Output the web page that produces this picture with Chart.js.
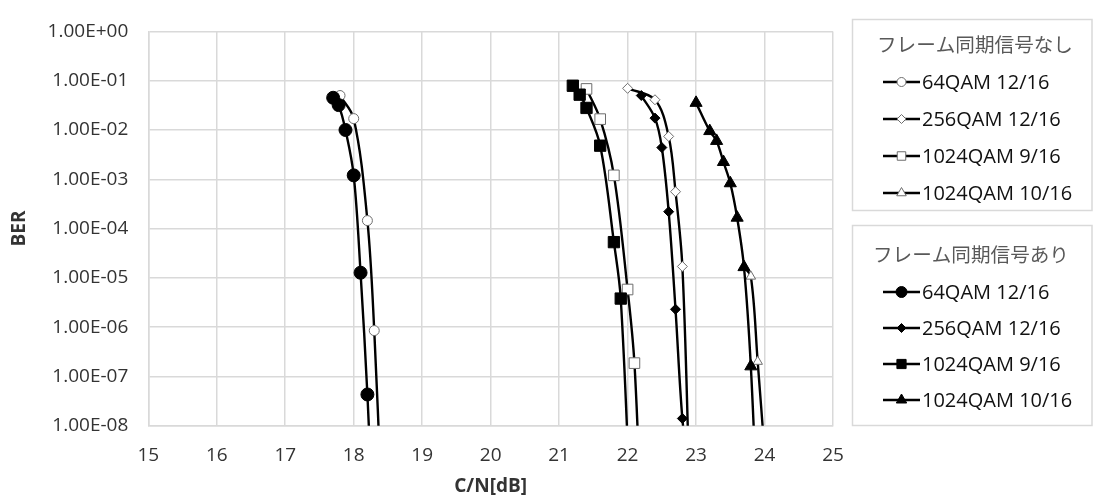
<!DOCTYPE html>
<html>
<head>
<meta charset="utf-8">
<script src="https://cdn.jsdelivr.net/npm/chart.js@4"></script>
<style>
  html, body { margin: 0; padding: 0; background: #fff; }
  #c { display: block; }
</style>
</head>
<body>
<canvas id="c" width="1093" height="497"></canvas>
<script>
// values (C/N in dB, BER)
const cn64Sync   = [17.7, 17.78, 17.88, 18.0, 18.1, 18.2, 18.3];
const ber64Sync  = [4.5e-2, 3.2e-2, 1.0e-2, 1.2e-3, 1.27e-5, 4.3e-8, 3e-11];
const cn256Sync  = [22.2, 22.4, 22.5, 22.6, 22.7, 22.8, 22.9];
const ber256Sync = [5.0e-2, 1.74e-2, 4.4e-3, 2.2e-4, 2.3e-6, 1.4e-8, 1e-9];
const cn1024_9Sync  = [21.2, 21.3, 21.4, 21.6, 21.8, 21.9, 22.05];
const ber1024_9Sync = [7.9e-2, 5.2e-2, 2.8e-2, 4.8e-3, 5.3e-5, 3.8e-6, 1e-10];
const cn1024_10Sync  = [23.0, 23.2, 23.3, 23.4, 23.5, 23.6, 23.7, 23.8, 23.9];
const ber1024_10Sync = [3.55e-2, 9.5e-3, 6.0e-3, 2.24e-3, 8.3e-4, 1.66e-4, 1.65e-5, 1.6e-7, 1e-10];

const cn64NoSync   = [17.8, 18.0, 18.2, 18.3, 18.4];
const ber64NoSync  = [5.0e-2, 1.7e-2, 1.45e-4, 8.5e-7, 5e-10];
const cn256NoSync  = [22.0, 22.4, 22.6, 22.7, 22.8, 22.9];
const ber256NoSync = [7.0e-2, 4.1e-2, 7.4e-3, 5.6e-4, 1.7e-5, 1e-9];
const cn1024_9NoSync  = [21.4, 21.6, 21.8, 22.0, 22.1, 22.2];
const ber1024_9NoSync = [6.8e-2, 1.66e-2, 1.2e-3, 5.8e-6, 1.86e-7, 1e-10];
const cn1024_10NoSync  = [23.7, 23.8, 23.9, 24.0];
const ber1024_10NoSync = [1.65e-5, 1.07e-5, 2.0e-7, 3e-9];

const yTickValues = [1e-8, 1e-7, 1e-6, 1e-5, 1e-4, 1e-3, 1e-2, 1e-1, 1];
const yTickLabels = ["1.00E-08", "1.00E-07", "1.00E-06", "1.00E-05", "1.00E-04",
                     "1.00E-03", "1.00E-02", "1.00E-01", "1.00E+00"];

const legendTitleNoSync = "フレーム同期信号なし";
const legendTitleSync = "フレーム同期信号あり";

function pts(xs, ys) {
  return xs.map((x, i) => ({x: x, y: ys[i]}));
}

const openMark = {backgroundColor: "#fff", pointBorderColor: "#6d6d6d", pointBorderWidth: 1};
const fullMark = {backgroundColor: "#000", pointBorderColor: "#000", pointBorderWidth: 1};

function series(label, group, xs, ys, style, radius, legendRadius, mark) {
  return {
    label: label,
    group: group,
    data: pts(xs, ys),
    borderColor: "#000",
    borderWidth: 2.4,
    pointStyle: style,
    pointRadius: radius,
    legendRadius: legendRadius,
    pointBackgroundColor: mark.backgroundColor,
    pointBorderColor: mark.pointBorderColor,
    pointBorderWidth: mark.pointBorderWidth,
    pointHoverRadius: radius,
    tension: 0.35
  };
}

const datasets = [
  series("64QAM 12/16", 1, cn64Sync, ber64Sync, "circle", 6.5, 5.5, fullMark),
  series("256QAM 12/16", 1, cn256Sync, ber256Sync, "rectRot", 5, 4.5, fullMark),
  series("1024QAM 9/16", 1, cn1024_9Sync, ber1024_9Sync, "rect", 8, 6.5, fullMark),
  series("1024QAM 10/16", 1, cn1024_10Sync, ber1024_10Sync, "triangle", 7, 6, fullMark),
  series("64QAM 12/16", 0, cn64NoSync, ber64NoSync, "circle", 5, 4.5, openMark),
  series("256QAM 12/16", 0, cn256NoSync, ber256NoSync, "rectRot", 5, 4.5, openMark),
  series("1024QAM 9/16", 0, cn1024_9NoSync, ber1024_9NoSync, "rect", 7.5, 6, openMark),
  series("1024QAM 10/16", 0, cn1024_10NoSync, ber1024_10NoSync, "triangle", 5.5, 5.5, openMark)
];

// two boxed legends on the right, drawn on the canvas
const boxLegend = {
  id: "boxLegend",
  afterDraw(chart) {
    const ctx = chart.ctx;
    const boxes = [
      {group: 0, title: legendTitleNoSync, top: 19.5, bottom: 210.5, titleX: 877, titleY: 45, rows: [82, 119, 156, 193]},
      {group: 1, title: legendTitleSync, top: 225.5, bottom: 425.5, titleX: 873, titleY: 255, rows: [292, 328, 364, 400]}
    ];
    ctx.save();
    for (let b of boxes) {
      ctx.strokeStyle = "#d9d9d9";
      ctx.lineWidth = 1.5;
      ctx.strokeRect(852.5, b.top, 239.5, b.bottom - b.top);

      ctx.fillStyle = "#595959";
      ctx.font = '19.6px "Noto Sans CJK JP"';
      ctx.textBaseline = "middle";
      ctx.textAlign = "left";
      ctx.fillText(b.title, b.titleX, b.titleY);

      let items = chart.data.datasets.filter(d => d.group === b.group);
      items.forEach((d, i) => {
        let y = b.rows[i];
        ctx.strokeStyle = "#000";
        ctx.lineWidth = 2.4;
        ctx.beginPath();
        ctx.moveTo(883, y);
        ctx.lineTo(920, y);
        ctx.stroke();

        ctx.fillStyle = d.pointBackgroundColor;
        ctx.strokeStyle = d.pointBorderColor;
        ctx.lineWidth = d.pointBorderWidth;
        Chart.helpers.drawPoint(ctx, {
          pointStyle: d.pointStyle,
          radius: d.legendRadius,
          borderWidth: d.pointBorderWidth,
          rotation: 0
        }, 901.5, y);

        ctx.fillStyle = "#111";
        ctx.font = '20px "Open Sans"';
        ctx.fillText(d.label, 922, y + 1);
      });
    }
    ctx.restore();
  }
};

const gridColor = "#d9d9d9";

new Chart(document.getElementById("c"), {
  type: "line",
  data: {datasets: datasets},
  options: {
    responsive: false,
    animation: false,
    events: [],
    layout: {
      padding: {top: 22, right: 260, bottom: 0, left: 0}
    },
    plugins: {
      legend: {display: false},
      tooltip: {enabled: false}
    },
    scales: {
      x: {
        type: "linear",
        min: 15,
        max: 25,
        ticks: {
          stepSize: 1,
          padding: 18,
          color: "#333",
          font: {family: "Open Sans", size: 19}
        },
        grid: {color: gridColor, lineWidth: 1.5, drawTicks: false},
        border: {color: gridColor, width: 1.5},
        title: {
          display: true,
          text: "C/N[dB]",
          color: "#333",
          font: {family: "Open Sans", size: 19, weight: "bold", lineHeight: 1.1},
          padding: {top: 0, bottom: 0}
        },
        afterFit(scale) {
          scale.height = 71.3;
        }
      },
      y: {
        type: "logarithmic",
        min: 1e-8,
        max: 1,
        afterBuildTicks(scale) {
          scale.ticks = yTickValues.map(v => ({value: v}));
        },
        ticks: {
          padding: 20,
          color: "#333",
          font: {family: "Open Sans", size: 19},
          autoSkip: false,
          callback: (v) => yTickLabels[yTickValues.indexOf(v)]
        },
        grid: {color: gridColor, lineWidth: 1.5, drawTicks: false},
        border: {color: gridColor, width: 1.5},
        title: {
          display: true,
          text: "BER",
          color: "#333",
          font: {family: "Open Sans", size: 19, weight: "bold", lineHeight: 1.2},
          padding: {top: 8, bottom: 0}
        },
        afterFit(scale) {
          scale.width = 148.3;
        }
      }
    }
  },
  plugins: [boxLegend]
});
</script>
</body>
</html>
